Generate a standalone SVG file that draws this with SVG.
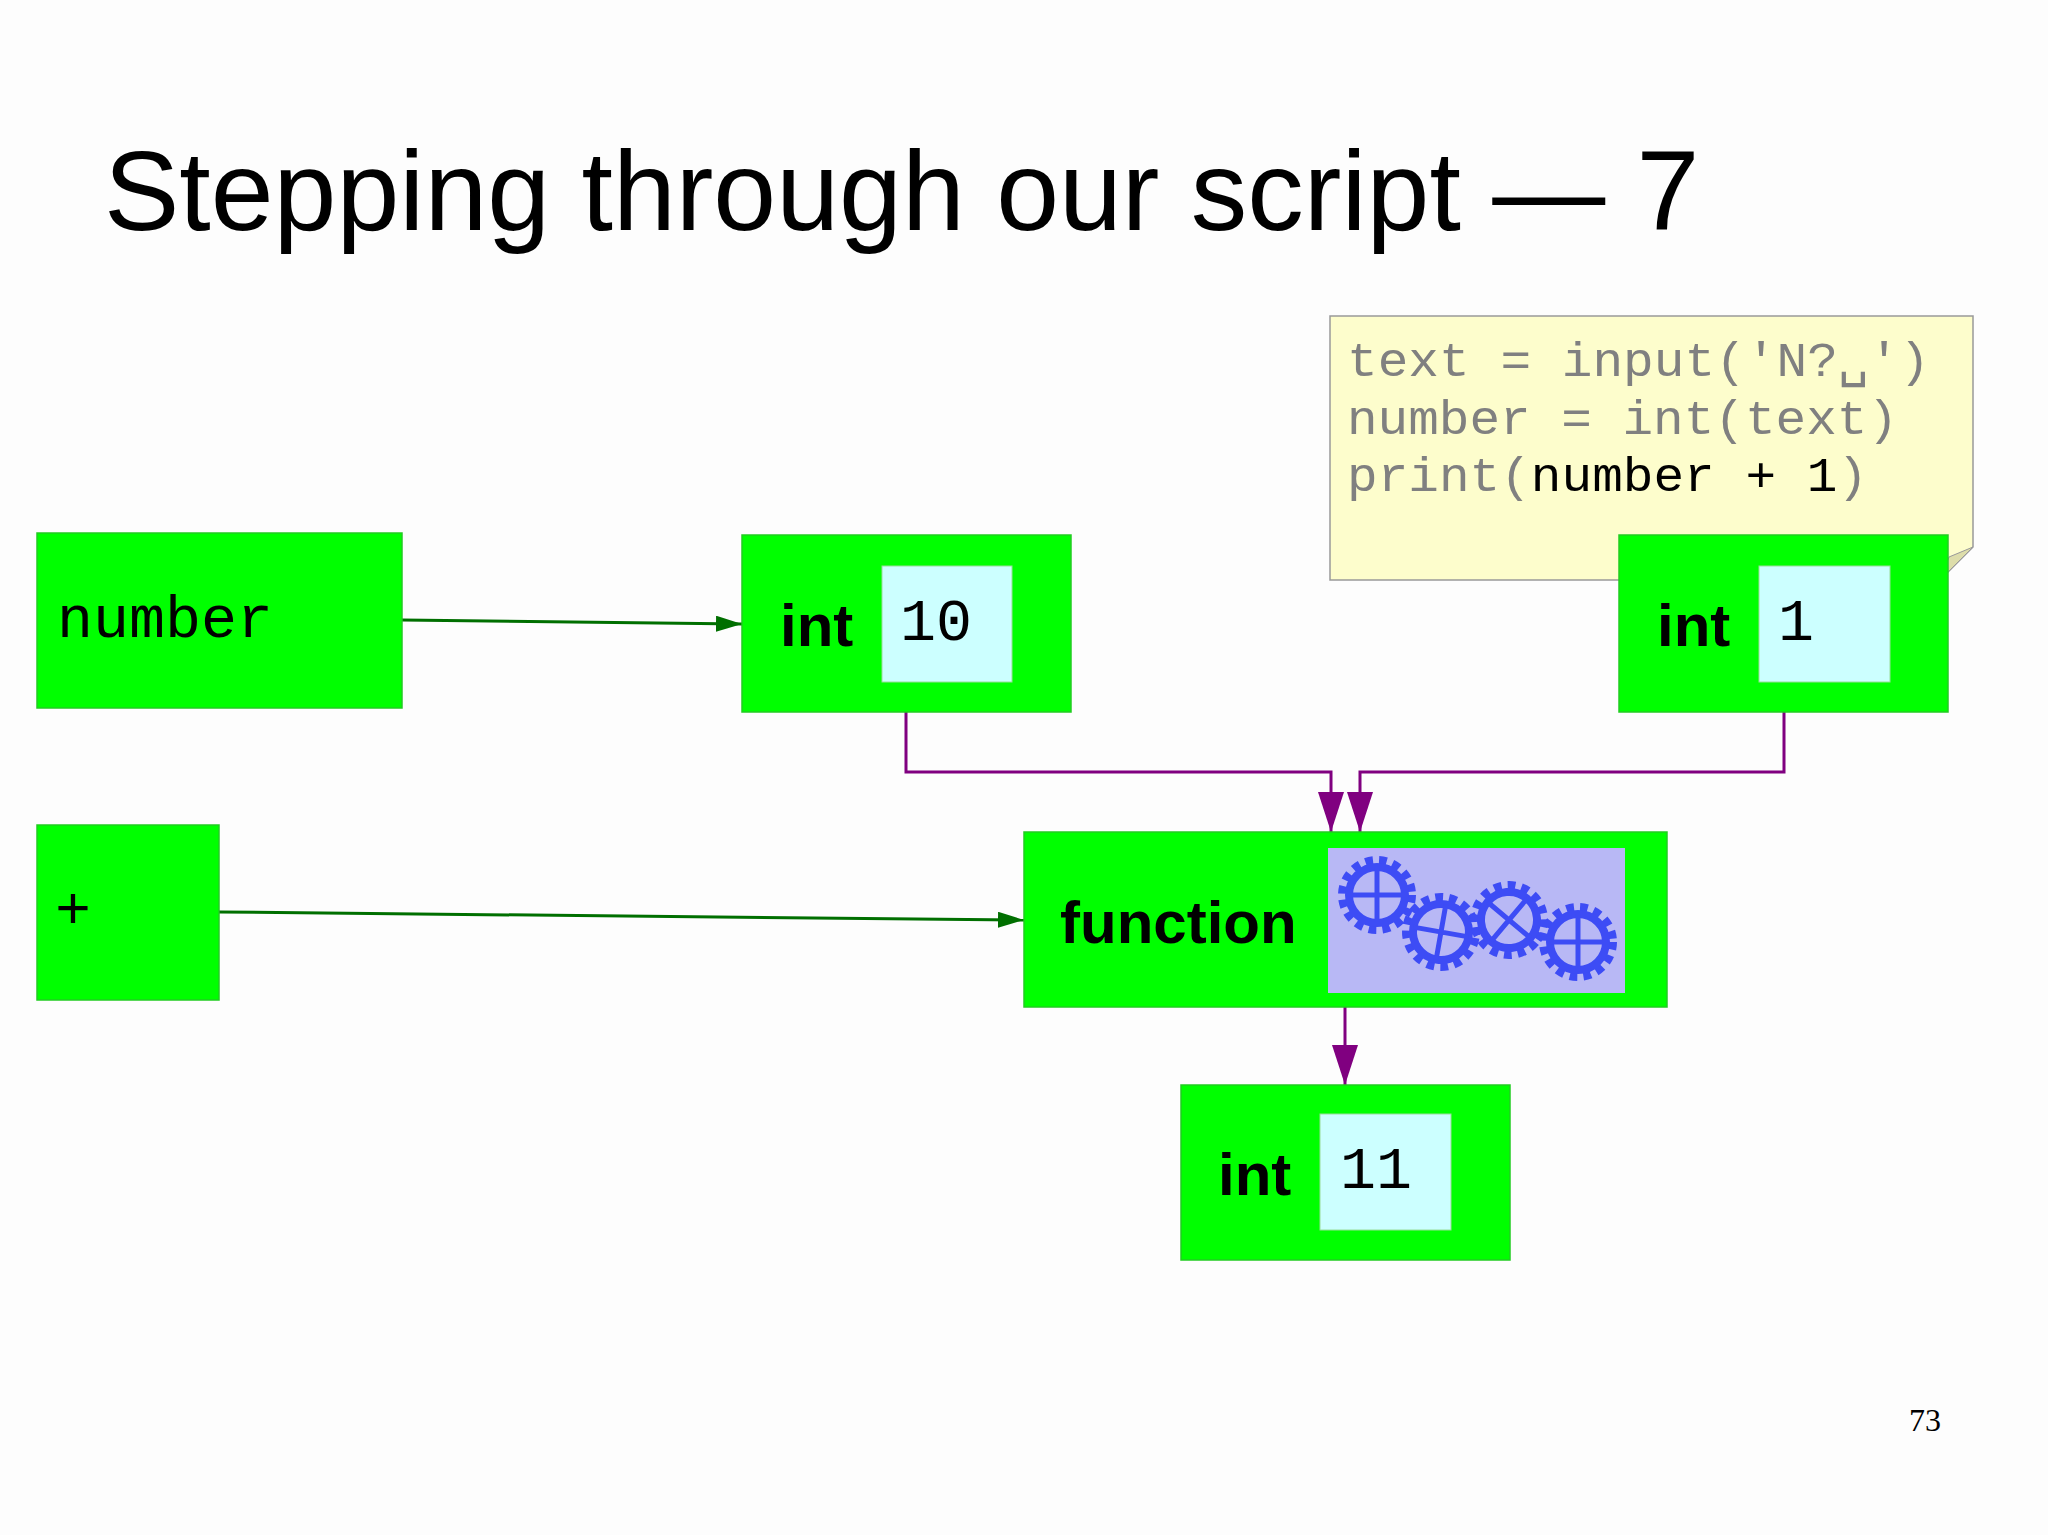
<svg xmlns="http://www.w3.org/2000/svg" width="2048" height="1535" viewBox="0 0 2048 1535">
<style>
.node{fill:#00ff00;stroke:#22cc22;stroke-width:1.5}
.val{fill:#ccffff;stroke:#99dd99;stroke-width:1}
.type{font-family:"Liberation Sans",Arial,sans-serif;font-weight:bold;font-size:60px;fill:#000}
.mono{font-family:"Liberation Mono","DejaVu Sans Mono",monospace;font-size:60px;fill:#000}
.code{font-family:"Liberation Mono","DejaVu Sans Mono",monospace;font-size:49px;fill:#808080}
.g{stroke:#006f00;stroke-width:3;fill:none}
.p{stroke:#800080;stroke-width:3;fill:none}
.gear{fill:none;stroke:#3d4cf5}
</style>
<defs>
<marker id="ag" markerWidth="26" markerHeight="16" refX="26" refY="8" orient="auto" markerUnits="userSpaceOnUse"><path d="M0,0 L26,8 L0,16 z" fill="#006f00"/></marker>
<marker id="ap" markerWidth="26" markerHeight="40" refX="13" refY="40" orient="0" markerUnits="userSpaceOnUse"><path d="M0,0 L26,0 L13,40 z" fill="#800080"/></marker>
<g id="gearshape">
<circle r="34" class="gear" stroke-width="10" stroke-dasharray="7.5 6"/>
<circle r="28" class="gear" stroke-width="8"/>
<path d="M-28,0 H28 M0,-28 V28" class="gear" stroke-width="5"/>
</g>
</defs>
<rect width="2048" height="1535" fill="#fdfdfd"/>
<text x="104" y="230" font-family="Liberation Sans,Arial,sans-serif" font-size="113" fill="#000">Stepping through our script — 7</text>

<g id="code">
<path d="M1330,316 H1973 V547 L1940,580 H1330 Z" fill="#fdfdcc" stroke="#999" stroke-width="1.5"/>
<path d="M1973,547 L1949,557 L1940,580 Z" fill="#ddddaa" stroke="#999"/>
<text class="code" x="1347" y="376" textLength="583" lengthAdjust="spacingAndGlyphs">text = input('N?␣')</text>
<text class="code" x="1347" y="434" textLength="551" lengthAdjust="spacingAndGlyphs">number = int(text)</text>
<text class="code" x="1347" y="491" textLength="521" lengthAdjust="spacingAndGlyphs">print(<tspan fill="#000">number + 1</tspan>)</text>
</g>

<g id="connectors">
<path class="g" d="M402,620 L742,624" marker-end="url(#ag)"/>
<path class="g" d="M219,912 L1024,920" marker-end="url(#ag)"/>
<path class="p" d="M906,712 V772 H1331 V832" marker-end="url(#ap)"/>
<path class="p" d="M1784,712 V772 H1360 V832" marker-end="url(#ap)"/>
<path class="p" d="M1345,1007 V1085" marker-end="url(#ap)"/>
</g>

<g id="n-number"><rect class="node" x="37" y="533" width="365" height="175"/><text class="mono" x="57" y="637">number</text></g>
<g id="n-plus"><rect class="node" x="37" y="825" width="182" height="175"/><text class="mono" x="55" y="928">+</text></g>
<g id="n-int10"><rect class="node" x="742" y="535" width="329" height="177"/><rect class="val" x="882" y="566" width="130" height="116"/><text class="type" x="780" y="646">int</text><text class="mono" x="900" y="640">10</text></g>
<g id="n-int1"><rect class="node" x="1619" y="535" width="329" height="177"/><rect class="val" x="1759" y="566" width="131" height="116"/><text class="type" x="1657" y="646">int</text><text class="mono" x="1778" y="640">1</text></g>
<g id="n-function"><rect class="node" x="1024" y="832" width="643" height="175"/><rect x="1328" y="848" width="297" height="145" fill="#b8b8f5"/>
<text class="type" x="1060" y="943" font-size="62">function</text>
<use href="#gearshape" x="1377" y="895"/>
<use href="#gearshape" x="1441" y="932" transform="rotate(10 1441 932)"/>
<use href="#gearshape" x="1509" y="920" transform="rotate(40 1509 920)"/>
<use href="#gearshape" x="1578" y="942"/>
</g>
<g id="n-int11"><rect class="node" x="1181" y="1085" width="329" height="175"/><rect class="val" x="1320" y="1114" width="131" height="116"/><text class="type" x="1218" y="1195">int</text><text class="mono" x="1340" y="1188">11</text></g>
<text x="1909" y="1431" font-family="Liberation Serif,serif" font-size="32" fill="#000">73</text>
</svg>
